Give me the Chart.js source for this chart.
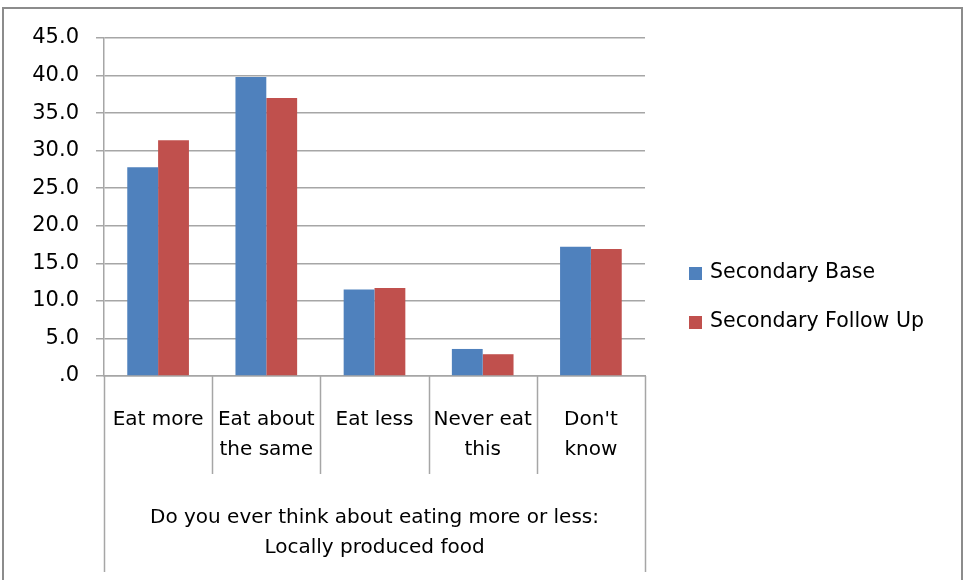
<!DOCTYPE html>
<html>
<head>
<meta charset="utf-8">
<script src="https://cdn.jsdelivr.net/npm/chart.js@4/dist/chart.umd.min.js"></script>
<style>
  body { margin: 0; background: #fff; }
  #wrap { width: 963px; height: 580px; }
</style>
</head>
<body>
<div id="wrap"><canvas id="chart" width="963" height="580"></canvas></div>
<script>
// data
const categories = [['Eat more'], ['Eat about', 'the same'], ['Eat less'], ['Never eat', 'this'], ["Don't", 'know']];
const seriesNames = ['Secondary Base', 'Secondary Follow Up'];
const baseValues = [27.8, 39.8, 11.5, 3.6, 17.2];
const followUpValues = [31.4, 37.0, 11.7, 2.9, 16.9];
const axisTitle = ['Do you ever think about eating more or less:', 'Locally produced food'];
const yMax = 45;
const yStep = 5;

const colors = ['#4F81BD', '#C0504D'];
const lineGray = '#a6a6a6';
const fontFamily = '"DejaVu Sans", sans-serif';

// multi-level axis box, axis title, legend and outer frame
const extras = {
    id: 'extras',
    afterDraw(chart) {
        const ctx = chart.ctx;
        const x = chart.scales.x;
        const area = chart.chartArea;
        const n = chart.data.labels.length;
        const half = (x.getPixelForValue(1) - x.getPixelForValue(0)) / 2;

        ctx.save();
        ctx.strokeStyle = lineGray;
        ctx.lineWidth = 1.5;
        for (let i = 0; i <= n; i++) {
            const px = Math.round(x.getPixelForValue(i) - half) + 0.5;
            const outer = (i === 0 || i === n);
            ctx.beginPath();
            ctx.moveTo(px, area.bottom);
            ctx.lineTo(px, outer ? 572 : 474);
            ctx.stroke();
        }

        // axis title
        ctx.fillStyle = '#000';
        ctx.font = '20px ' + fontFamily;
        ctx.textAlign = 'center';
        ctx.textBaseline = 'middle';
        const cx = (area.left + area.right) / 2;
        axisTitle.forEach((t, i) => ctx.fillText(t, cx, 518 + i * 30));

        // legend
        ctx.font = '20.5px ' + fontFamily;
        ctx.textAlign = 'left';
        chart.data.datasets.forEach((ds, i) => {
            const cy = 273 + i * 49;
            ctx.fillStyle = ds.backgroundColor;
            ctx.fillRect(689, cy - 6, 13, 13);
            ctx.fillStyle = '#000';
            ctx.fillText(ds.label, 710, cy);
        });

        // outer frame
        ctx.strokeStyle = '#8c8c8c';
        ctx.lineWidth = 2;
        ctx.strokeRect(3, 8, 959, 600);
        ctx.restore();
    }
};

new Chart(document.getElementById('chart'), {
    type: 'bar',
    data: {
        labels: categories,
        datasets: [
            { label: seriesNames[0], data: baseValues, backgroundColor: colors[0] },
            { label: seriesNames[1], data: followUpValues, backgroundColor: colors[1] }
        ]
    },
    options: {
        responsive: false,
        animation: false,
        datasets: { bar: { categoryPercentage: 0.57, barPercentage: 1.0 } },
        layout: { padding: { top: 38, right: 318, bottom: 0, left: 0 } },
        plugins: {
            legend: { display: false },
            tooltip: { enabled: false }
        },
        scales: {
            x: {
                grid: { display: false, drawTicks: false },
                border: { display: true, color: lineGray, width: 1.5 },
                ticks: {
                    padding: 29,
                    color: '#000',
                    maxRotation: 0,
                    autoSkip: false,
                    font: { family: fontFamily, size: 20, lineHeight: 1.5 }
                },
                afterFit(scale) { scale.height = 204; }
            },
            y: {
                min: 0,
                max: yMax,
                grid: { color: lineGray, lineWidth: 1.5, tickLength: 8 },
                border: { display: true, color: lineGray, width: 1.5 },
                ticks: {
                    stepSize: yStep,
                    padding: 17,
                    color: '#000',
                    font: { family: fontFamily, size: 21 },
                    callback: v => v === 0 ? '.0' : v.toFixed(1)
                },
                afterFit(scale) { scale.width = 104; }
            }
        }
    },
    plugins: [extras]
});
</script>
</body>
</html>
